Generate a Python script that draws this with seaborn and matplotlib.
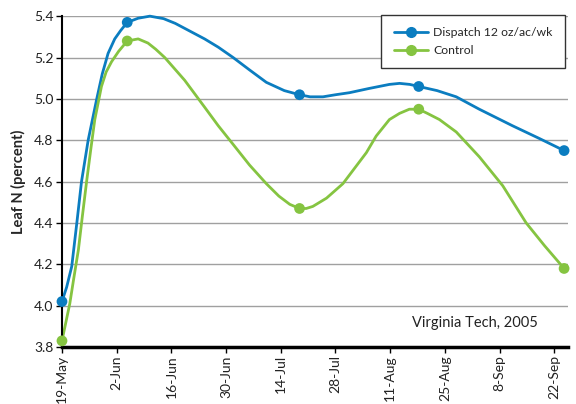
import pandas as pd
import numpy as np
import matplotlib
matplotlib.use('Agg')
import matplotlib.pyplot as plt
import matplotlib.dates as mdates
from matplotlib.lines import Line2D
import seaborn as sns

# values (days after 19-May-2005)
start = pd.Timestamp('2005-05-19')
series_names = ['Dispatch 12 oz/ac/wk', 'Control']

# sampled points along the smoothed curves
dispatch_days = [0, 1.2, 2.5, 3.8, 5, 6.7, 8.9, 10.3, 11.8, 13.5, 15, 16.7, 19.5, 22.5, 26, 29,
                 32.5, 36.5, 40, 43.8, 48, 52.3, 56.9, 60.8, 63.5, 66.8, 70, 73.6, 78.5, 83.8,
                 86.4, 89, 91.3, 96, 100.9, 106.8, 115.3, 122, 128.5]
dispatch_vals = [4.02, 4.09, 4.19, 4.40, 4.60, 4.80, 5.00, 5.12, 5.22, 5.29, 5.33, 5.37, 5.39,
                 5.40, 5.388, 5.365, 5.33, 5.29, 5.25, 5.20, 5.14, 5.08, 5.04, 5.02, 5.01, 5.01,
                 5.02, 5.03, 5.05, 5.07, 5.075, 5.07, 5.06, 5.04, 5.01, 4.95, 4.87, 4.81, 4.75]
control_days = [0, 2, 3, 4.2, 5.2, 6.3, 7.4, 8.4, 10.1, 11.3, 12.7, 14.5, 16.7, 19.5, 22, 24,
                26.3, 31.4, 36.5, 40, 43.8, 48, 52.3, 55.5, 58.3, 60.8, 62.5, 64.2, 67.7, 71.9,
                77.9, 80.4, 83.8, 86.4, 88.9, 91.3, 93.5, 96.6, 100.9, 106.8, 112.8, 118.8,
                123.5, 128.5]
control_vals = [3.83, 4.01, 4.13, 4.27, 4.43, 4.60, 4.76, 4.90, 5.06, 5.13, 5.18, 5.23, 5.28,
                5.29, 5.27, 5.24, 5.20, 5.09, 4.96, 4.87, 4.78, 4.68, 4.59, 4.53, 4.49, 4.47,
                4.47, 4.48, 4.52, 4.59, 4.74, 4.82, 4.90, 4.93, 4.95, 4.95, 4.93, 4.90, 4.84,
                4.72, 4.58, 4.40, 4.29, 4.18]

# sampling dates (markers)
sample_days = [0, 16.7, 60.8, 91.3, 128.5]
dispatch_pts = [4.02, 5.37, 5.02, 5.06, 4.75]
control_pts = [3.83, 5.28, 4.47, 4.95, 4.18]

colors = {'Dispatch 12 oz/ac/wk': '#0b7dc0', 'Control': '#85c441'}

def to_dates(days):
    return start + pd.to_timedelta(np.array(days), unit='D')

df_line = pd.concat([
    pd.DataFrame({'date': to_dates(dispatch_days), 'N': dispatch_vals, 'series': series_names[0]}),
    pd.DataFrame({'date': to_dates(control_days), 'N': control_vals, 'series': series_names[1]}),
])
df_pts = pd.concat([
    pd.DataFrame({'date': to_dates(sample_days), 'N': dispatch_pts, 'series': series_names[0]}),
    pd.DataFrame({'date': to_dates(sample_days), 'N': control_pts, 'series': series_names[1]}),
])

sns.set_theme(style='white')
plt.rcParams['font.family'] = ['Lato', 'DejaVu Sans']

fig = plt.figure(figsize=(5.76, 4.04), dpi=100)
ax = fig.add_axes([0.1076, 0.141, 0.8785, 0.819])

sns.lineplot(data=df_line, x='date', y='N', hue='series', palette=colors,
             linewidth=2, legend=False, ax=ax, clip_on=False)
for l in ax.lines:
    l.set_solid_joinstyle('round')
sns.scatterplot(data=df_pts, x='date', y='N', hue='series', palette=colors,
                s=60, edgecolor='none', legend=False, ax=ax, clip_on=False, zorder=5)

ax.set_ylim(3.8, 5.4)
ax.set_yticks(np.arange(3.8, 5.41, 0.2))
ax.yaxis.set_major_formatter(matplotlib.ticker.FormatStrFormatter('%.1f'))
ax.set_xlim(start, start + pd.Timedelta(days=129.5))
ticks = pd.date_range('2005-05-19', '2005-09-22', freq='14D')
ax.set_xticks(ticks)
ax.xaxis.set_major_formatter(mdates.DateFormatter('%-d-%b'))
plt.setp(ax.get_xticklabels(), rotation=90)

ax.grid(axis='y', color='#a0a0a0', linewidth=1)
ax.set_axisbelow(True)
for s in ['top', 'right']:
    ax.spines[s].set_visible(False)
ax.spines['left'].set_color('black')
ax.spines['left'].set_linewidth(1.5)
ax.spines['bottom'].set_color('black')
ax.spines['bottom'].set_linewidth(2.5)
ax.tick_params(axis='both', which='major', length=4, width=1, color='black',
               labelsize=10, labelcolor='#222222', direction='out', left=True, bottom=True, pad=2)

ax.set_xlabel('')
ax.set_ylabel('Leaf N (percent)', fontsize=10.5, fontweight='bold', labelpad=6)

handles = [Line2D([0], [0], color=colors[n], lw=2, marker='o', markersize=7) for n in series_names]
leg = ax.legend(handles, series_names, loc='upper right', bbox_to_anchor=(0.994, 1.003),
                borderaxespad=0, fancybox=False, framealpha=1, edgecolor='#333333',
                fontsize=8.8, handlelength=2.8, handletextpad=0.45, borderpad=1.0,
                labelspacing=0.55)
leg.get_frame().set_linewidth(1)

ax.text(0.816, 0.05, 'Virginia Tech, 2005', transform=ax.transAxes, ha='center',
        va='bottom', fontsize=10.5, color='#222222')

fig.savefig('out.png', dpi=100)
